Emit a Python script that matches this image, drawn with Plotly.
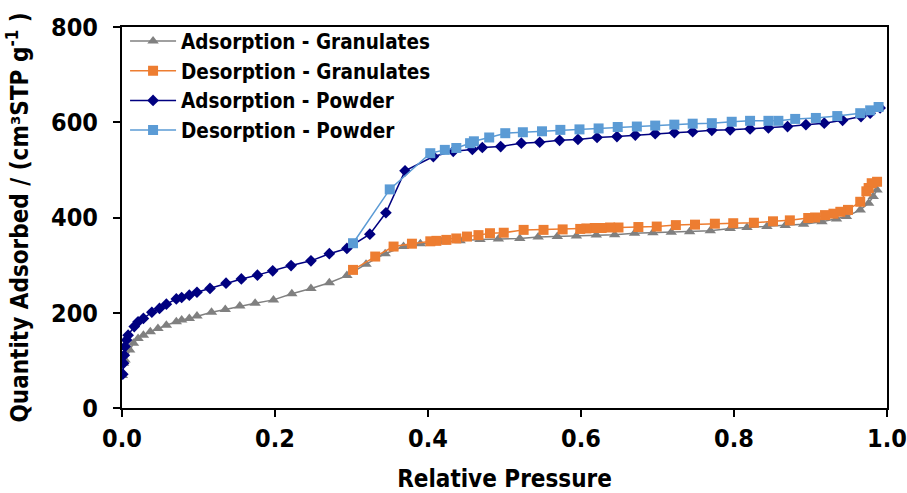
import plotly.graph_objects as go

ads_gran_x = [0.0005,0.002,0.004,0.010,0.015,0.021,0.028,0.037,0.047,0.058,0.071,0.078,0.088,0.098,0.117,0.135,0.154,0.174,0.198,0.222,0.247,0.271,0.294,0.319,0.344,0.368,0.390,0.418,0.442,0.468,0.492,0.520,0.544,0.569,0.594,0.620,0.644,0.670,0.694,0.718,0.742,0.769,0.795,0.817,0.843,0.867,0.891,0.915,0.934,0.947,0.965,0.976,0.982,0.987]
ads_gran_y = [68,94,101,122,136,146,153,160,167,174,181,185,188,193,201,207,214,220,227,240,251,263,278,302,324,339,345,349,351,354,355,356,359,360,361,363,364,367,368,369,370,372,377,379,381,383,386,391,397,402,416,430,444,458]

des_gran_x = [0.987,0.980,0.976,0.973,0.965,0.949,0.939,0.930,0.919,0.906,0.897,0.873,0.851,0.826,0.799,0.775,0.749,0.724,0.699,0.675,0.649,0.638,0.627,0.618,0.607,0.599,0.576,0.551,0.525,0.499,0.481,0.466,0.451,0.437,0.424,0.411,0.403,0.379,0.355,0.331,0.302]
des_gran_y = [475,472,462,455,433,416,412,408,405,400,399,394,392,389,388,387,385,384,381,380,379,379,378,378,377,376,375,374,374,368,367,363,360,356,353,351,350,345,339,318,290]

ads_pow_x = [0.001,0.002,0.003,0.004,0.006,0.008,0.016,0.021,0.028,0.039,0.049,0.058,0.071,0.078,0.088,0.098,0.115,0.136,0.156,0.177,0.197,0.221,0.247,0.271,0.294,0.324,0.345,0.370,0.407,0.433,0.458,0.471,0.495,0.522,0.546,0.572,0.596,0.621,0.647,0.671,0.697,0.722,0.746,0.771,0.795,0.821,0.845,0.870,0.894,0.918,0.942,0.966,0.978,0.991]
ads_pow_y = [71,94,111,129,143,153,171,181,188,201,209,218,229,232,237,243,251,262,271,279,288,299,309,324,335,365,410,498,528,539,543,547,549,556,558,562,564,568,570,573,576,578,580,583,584,586,588,591,595,598,604,612,619,630]

des_pow_x = [0.989,0.978,0.965,0.935,0.907,0.880,0.858,0.845,0.821,0.797,0.771,0.746,0.722,0.697,0.673,0.648,0.623,0.598,0.573,0.549,0.524,0.501,0.480,0.460,0.455,0.437,0.422,0.403,0.350,0.302]
des_pow_y = [632,625,619,613,609,607,603,603,603,601,598,597,595,593,591,590,587,585,584,581,579,577,568,560,556,546,542,535,459,346]

FONT = "DejaVu Sans Condensed"

fig = go.Figure()
fig.add_trace(go.Scatter(x=ads_gran_x, y=ads_gran_y, mode="lines+markers", name="Adsorption - Granulates",
                         line=dict(color="#808080", width=1.5),
                         marker=dict(symbol="triangle-up", size=10, color="#808080")))
fig.add_trace(go.Scatter(x=des_gran_x, y=des_gran_y, mode="lines+markers", name="Desorption - Granulates",
                         line=dict(color="#ED7D31", width=1.5),
                         marker=dict(symbol="square", size=10, color="#ED7D31")))
fig.add_trace(go.Scatter(x=ads_pow_x, y=ads_pow_y, mode="lines+markers", name="Adsorption - Powder",
                         line=dict(color="#000080", width=1.5),
                         marker=dict(symbol="diamond", size=9, color="#000080")))
fig.add_trace(go.Scatter(x=des_pow_x, y=des_pow_y, mode="lines+markers", name="Desorption - Powder",
                         line=dict(color="#5B9BD5", width=1.5),
                         marker=dict(symbol="square", size=10, color="#5B9BD5")))

fig.update_layout(
    width=907, height=493,
    margin=dict(l=122, r=20, t=27, b=85),
    paper_bgcolor="white", plot_bgcolor="white",
    font=dict(family=FONT, color="black", size=20.5),
    showlegend=True,
    legend=dict(x=0.004, y=1.015, xanchor="left", yanchor="top",
                bgcolor="rgba(0,0,0,0)", itemwidth=46,
                font=dict(family=FONT, size=20.5, weight="bold"),
                tracegroupgap=0),
)
fig.update_xaxes(range=[0, 1.0], dtick=0.2, tickformat=".1f", automargin=False,
                 showline=True, linecolor="black", linewidth=2, mirror=True,
                 ticks="outside", ticklen=7, tickwidth=2, tickcolor="black",
                 showgrid=False, zeroline=False,
                 tickfont=dict(family=FONT, size=25, weight="bold"),
                 title=dict(text="Relative Pressure", font=dict(family=FONT, size=24, weight="bold"), standoff=22))
fig.update_yaxes(range=[0, 800], dtick=200, automargin=False,
                 showline=True, linecolor="black", linewidth=2, mirror=True,
                 ticks="outside", ticklen=7, tickwidth=2, tickcolor="black",
                 showgrid=False, zeroline=False, ticklabelstandoff=10,
                 tickfont=dict(family=FONT, size=25, weight="bold"),
                 title=dict(text="Quantity Adsorbed / (cm³STP g<sup>-1</sup> )", font=dict(family=FONT, size=24, weight="bold"), standoff=16))

fig.write_html("out.html")
